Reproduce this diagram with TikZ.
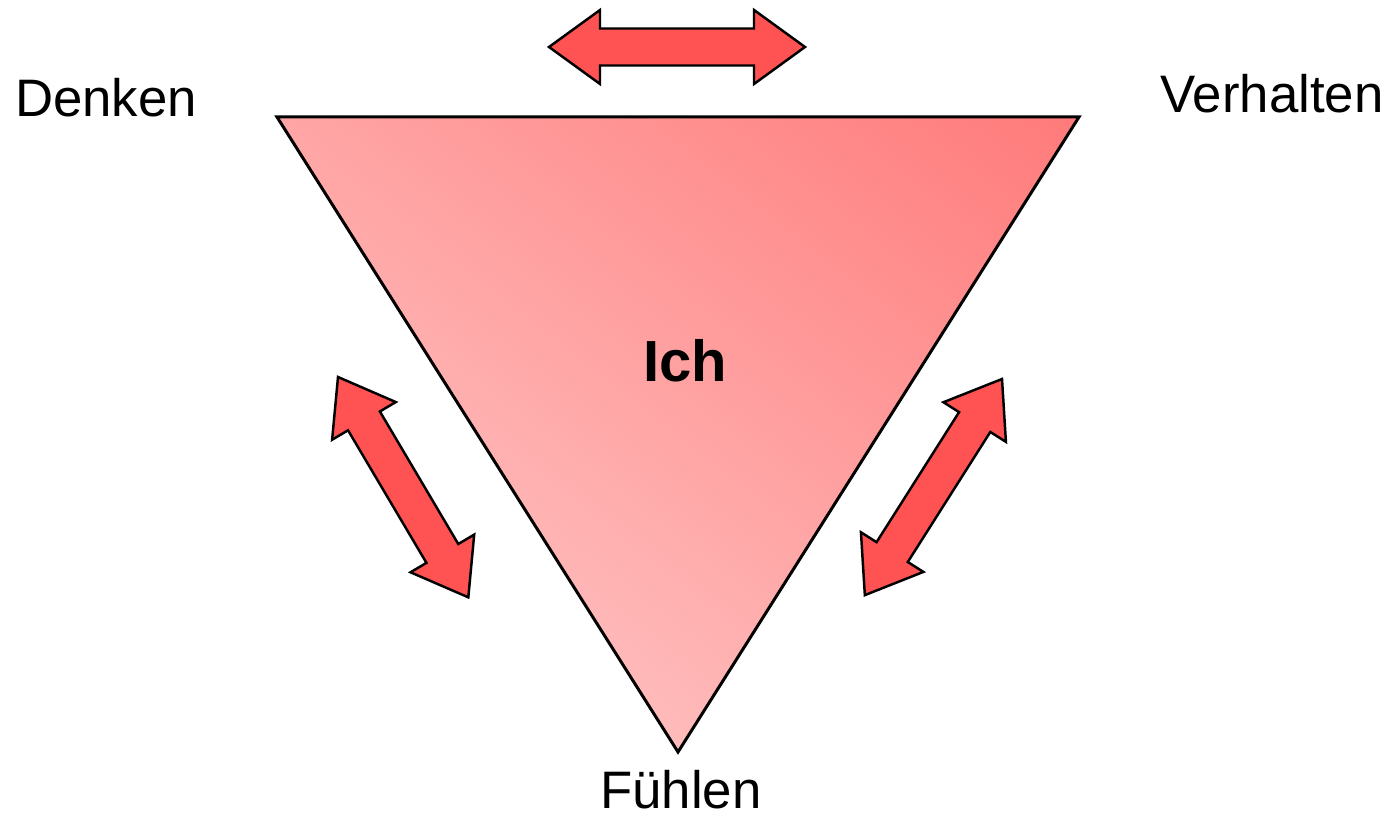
\documentclass[tikz,border=0pt]{standalone}
\usepackage{fontspec}
\setmainfont{Liberation Sans}
\definecolor{triLight}{HTML}{FFD1D1}
\definecolor{triDark}{HTML}{FF7A7A}
\definecolor{arrowRed}{HTML}{FF5252}
\begin{document}
\begin{tikzpicture}[x=0.01cm,y=-0.01cm,
  txt/.style={font=\fontsize{15pt}{18pt}\selectfont, anchor=base, inner sep=0pt},
  boldtxt/.style={font=\bfseries\fontsize{16.5pt}{19pt}\selectfont, anchor=base, inner sep=0pt},
  dblarrowstyle/.style={draw=black, fill=arrowRed, line width=0.7pt, line join=miter},
  pics/dblarrow/.style={code={
    \draw[dblarrowstyle] (0,0) -- (51,-37) -- (51,-18.5) -- (205,-18.5) -- (205,-37) -- (256,0)
      -- (205,37) -- (205,18.5) -- (51,18.5) -- (51,37) -- cycle;}}]
\useasboundingbox (0,0) rectangle (1392,822);
\coordinate (TL) at (277,117);
\coordinate (TR) at (1079,117);
\coordinate (B) at (678,752);
\coordinate (C) at (678,435);
\begin{scope}
  \clip (TL) -- (TR) -- (B) -- cycle;
  \begin{scope}[transform canvas={rotate around={52:(C)}}]
    \shade[left color=triLight, right color=triDark] (C) +(-500,-750) rectangle +(500,750);
  \end{scope}
\end{scope}
\draw[line width=0.85pt, line join=miter] (TL) -- (TR) -- (B) -- cycle;
\pic at (549,47) {dblarrow};
\pic[rotate=-59.4] at (338,377) {dblarrow};
\pic[rotate=237.6] at (1002,379) {dblarrow};
\node[txt] (denken) at (106,117) {Denken};
\node[txt] (verhalten) at (1272,113) {Verhalten};
\node[txt] (fuehlen) at (681,808) {Fühlen};
\node[boldtxt] (ich) at (685,382) {Ich};
\end{tikzpicture}
\end{document}
